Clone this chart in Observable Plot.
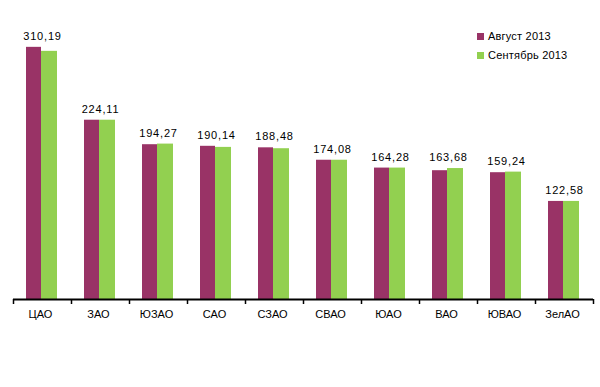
<!DOCTYPE html>
<html>
<head>
<meta charset="utf-8">
<script src="https://cdn.jsdelivr.net/npm/d3@7"></script>
<script src="https://cdn.jsdelivr.net/npm/@observablehq/plot@0.6"></script>
<style>
  body { margin: 0; background: #fff; }
  #wrap { position: relative; width: 600px; height: 387px; font-family: Arial, "Liberation Sans", sans-serif; }
  .legend { position: absolute; left: 477px; font-size: 11px; color: #000; line-height: 13px; white-space: nowrap; letter-spacing: 0.2px; }
  .legend span.sw { display: inline-block; width: 7px; height: 7px; margin-right: 4px; vertical-align: 0px; }
  svg g.vlabels text { letter-spacing: 0.8px; }
</style>
</head>
<body>
<div id="wrap"></div>
<script>
const categories = ["ЦАО", "ЗАО", "ЮЗАО", "САО", "СЗАО", "СВАО", "ЮАО", "ВАО", "ЮВАО", "ЗелАО"];
const august = [315.2, 224.11, 193.5, 191.5, 189.6, 174.08, 164.28, 161.0, 158.5, 122.58];
const september = [310.19, 224.11, 194.27, 190.14, 188.48, 174.08, 164.28, 163.68, 159.24, 122.58];
const valueLabels = ["310,19", "224,11", "194,27", "190,14", "188,48", "174,08", "164,28", "163,68", "159,24", "122,58"];
const seriesNames = ["Август 2013", "Сентябрь 2013"];
const seriesColors = ["#993366", "#92D050"];

const rows = categories.map((c, i) => ({
  cat: c, aug: august[i], sep: september[i], label: valueLabels[i], top: Math.max(august[i], september[i])
}));

const chart = Plot.plot({
  width: 600,
  height: 387,
  marginLeft: 13,
  marginRight: 7,
  marginTop: 19,
  marginBottom: 88,
  style: { fontFamily: "Arial, 'Liberation Sans', sans-serif", fontSize: "11px", color: "#000", background: "#fff" },
  x: { domain: categories, padding: 0, label: null },
  y: { domain: [0, 350], axis: null },
  marks: [
    Plot.barY(rows, { x: "cat", y: "aug", fill: seriesColors[0], insetLeft: 13, insetRight: 30 }),
    Plot.barY(rows, { x: "cat", y: "sep", fill: seriesColors[1], insetLeft: 28, insetRight: 14 }),
    Plot.text(rows, { x: "cat", y: "top", text: "label", dy: -11, fill: "#000", fontSize: 11, className: "vlabels" }),
    Plot.ruleY([0], { stroke: "#000", strokeWidth: 2 }),
    Plot.axisX({ tickSize: 5, tickFormat: () => "", dx: -29, stroke: "#000", strokeWidth: 1.5 }),
    Plot.axisX({ ticks: [categories[categories.length - 1]], tickSize: 5, tickFormat: () => "", dx: 29, stroke: "#000", strokeWidth: 1.5 }),
    Plot.axisX({ tickSize: 0, tickPadding: 11, dx: -2, fill: "#000", fontSize: 11, label: null })
  ]
});

const wrap = document.getElementById("wrap");
wrap.appendChild(chart);

seriesNames.forEach((name, i) => {
  const d = document.createElement("div");
  d.className = "legend";
  d.style.top = (30 + i * 19) + "px";
  d.innerHTML = `<span class="sw" style="background:${seriesColors[i]}"></span>${name}`;
  wrap.appendChild(d);
});
</script>
</body>
</html>
